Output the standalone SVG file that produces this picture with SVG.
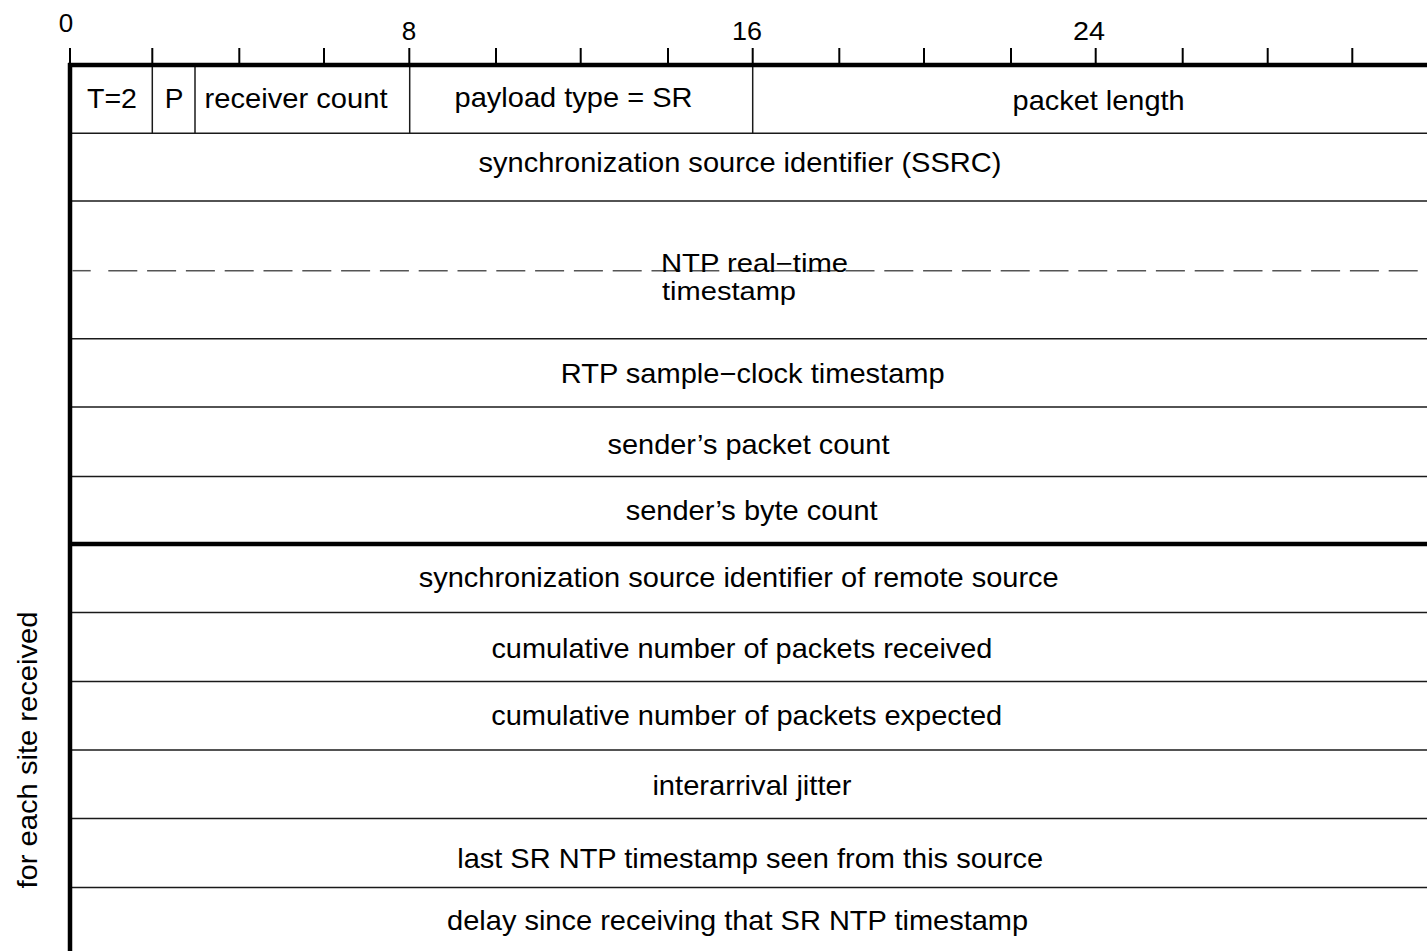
<svg xmlns="http://www.w3.org/2000/svg" width="1427" height="951" viewBox="0 0 1427 951">
<style>
  text { font-family: "Liberation Sans", Arial, sans-serif; fill: #000; }
  .lbl { font-size: 28px; text-anchor: middle; }
  .lft { font-size: 25px; text-anchor: start; }
  .num { font-size: 26px; text-anchor: middle; }
  .thick { stroke: #000; stroke-width: 4.5; fill: none; }
  .thin { stroke: #1a1a1a; stroke-width: 1.5; fill: none; }
  .tick { stroke: #000; stroke-width: 2; fill: none; }
  .dash { stroke: #555; stroke-width: 1.5; fill: none; }
</style>
<rect width="1427" height="951" fill="#fff"/>

<g id="ruler">
  <g class="tick">
    <line x1="70" y1="48" x2="70" y2="65"/>
    <line x1="152.3" y1="48" x2="152.3" y2="65"/>
    <line x1="239.3" y1="48" x2="239.3" y2="65"/>
    <line x1="324" y1="48" x2="324" y2="65"/>
    <line x1="409.3" y1="48" x2="409.3" y2="65"/>
    <line x1="496" y1="48" x2="496" y2="65"/>
    <line x1="580.7" y1="48" x2="580.7" y2="65"/>
    <line x1="668" y1="48" x2="668" y2="65"/>
    <line x1="752.7" y1="48" x2="752.7" y2="65"/>
    <line x1="839.3" y1="48" x2="839.3" y2="65"/>
    <line x1="924" y1="48" x2="924" y2="65"/>
    <line x1="1011" y1="48" x2="1011" y2="65"/>
    <line x1="1095.7" y1="48" x2="1095.7" y2="65"/>
    <line x1="1182.7" y1="48" x2="1182.7" y2="65"/>
    <line x1="1267.7" y1="48" x2="1267.7" y2="65"/>
    <line x1="1352.3" y1="48" x2="1352.3" y2="65"/>
  </g>
  <text class="num" x="66" y="32">0</text>
  <text class="num" x="409" y="40">8</text>
  <text class="num" x="747" y="40" textLength="30" lengthAdjust="spacingAndGlyphs">16</text>
  <text class="num" x="1089" y="40" textLength="32" lengthAdjust="spacingAndGlyphs">24</text>
</g>

<g id="grid">
  <!-- row 1 field dividers -->
  <g class="thin">
    <line x1="152.3" y1="65" x2="152.3" y2="133.5"/>
    <line x1="195" y1="65" x2="195" y2="133.5"/>
    <line x1="409.7" y1="65" x2="409.7" y2="133.5"/>
    <line x1="752.7" y1="65" x2="752.7" y2="133.5"/>
  </g>
  <!-- horizontal row separators -->
  <g class="thin">
    <line x1="70" y1="133.3" x2="1427" y2="133.3"/>
    <line x1="70" y1="201" x2="1427" y2="201"/>
    <line x1="70" y1="338.7" x2="1427" y2="338.7"/>
    <line x1="70" y1="407" x2="1427" y2="407"/>
    <line x1="70" y1="476.5" x2="1427" y2="476.5"/>
    <line x1="70" y1="612.5" x2="1427" y2="612.5"/>
    <line x1="70" y1="681.5" x2="1427" y2="681.5"/>
    <line x1="70" y1="750" x2="1427" y2="750"/>
    <line x1="70" y1="818.5" x2="1427" y2="818.5"/>
    <line x1="70" y1="887.5" x2="1427" y2="887.5"/>
  </g>
  <!-- dashed split of the 64-bit NTP timestamp -->
  <line class="dash" x1="72.5" y1="270.7" x2="90.7" y2="270.7"/>
  <line class="dash" x1="108.3" y1="270.7" x2="1427" y2="270.7" stroke-dasharray="29 9.8"/>
  <!-- thick borders -->
  <line class="thick" x1="68" y1="65" x2="1427" y2="65"/>
  <line class="thick" x1="70" y1="544" x2="1427" y2="544"/>
  <line class="thick" x1="70" y1="63" x2="70" y2="951"/>
</g>

<g id="f-type"><text class="lbl" x="112" y="108" textLength="50" lengthAdjust="spacingAndGlyphs">T=2</text></g>
<g id="f-padding"><text class="lbl" x="174" y="108">P</text></g>
<g id="f-receiver-count"><text class="lbl" x="296" y="108" textLength="183" lengthAdjust="spacingAndGlyphs">receiver count</text></g>
<g id="f-payload-type"><text class="lbl" x="573.5" y="107" textLength="238" lengthAdjust="spacingAndGlyphs">payload type = SR</text></g>
<g id="f-packet-length"><text class="lbl" x="1098.6" y="109.5" textLength="172" lengthAdjust="spacingAndGlyphs">packet length</text></g>
<g id="f-ssrc"><text class="lbl" x="740" y="172.3" textLength="523" lengthAdjust="spacingAndGlyphs">synchronization source identifier (SSRC)</text></g>
<g id="f-ntp">
  <text class="lft" x="661" y="271.5" textLength="187" lengthAdjust="spacingAndGlyphs">NTP real−time</text>
  <text class="lft" x="662" y="300" textLength="134" lengthAdjust="spacingAndGlyphs">timestamp</text>
</g>
<g id="f-rtp-ts"><text class="lbl" x="752.7" y="383.3" textLength="384" lengthAdjust="spacingAndGlyphs">RTP sample−clock timestamp</text></g>
<g id="f-packet-count"><text class="lbl" x="748.5" y="454.3" textLength="282" lengthAdjust="spacingAndGlyphs">sender’s packet count</text></g>
<g id="f-byte-count"><text class="lbl" x="751.7" y="520" textLength="252" lengthAdjust="spacingAndGlyphs">sender’s byte count</text></g>
<g id="f-remote-ssrc"><text class="lbl" x="738.7" y="586.7" textLength="640" lengthAdjust="spacingAndGlyphs">synchronization source identifier of remote source</text></g>
<g id="f-received"><text class="lbl" x="741.9" y="658.3" textLength="501" lengthAdjust="spacingAndGlyphs">cumulative number of packets received</text></g>
<g id="f-expected"><text class="lbl" x="746.7" y="725" textLength="511" lengthAdjust="spacingAndGlyphs">cumulative number of packets expected</text></g>
<g id="f-jitter"><text class="lbl" x="751.9" y="795" textLength="199" lengthAdjust="spacingAndGlyphs">interarrival jitter</text></g>
<g id="f-last-sr"><text class="lbl" x="750.2" y="868.3" textLength="586" lengthAdjust="spacingAndGlyphs">last SR NTP timestamp seen from this source</text></g>
<g id="f-delay"><text class="lbl" x="737.6" y="930" textLength="581" lengthAdjust="spacingAndGlyphs">delay since receiving that SR NTP timestamp</text></g>
<g id="side-label"><text class="lbl" transform="translate(37,750) rotate(-90)" textLength="277" lengthAdjust="spacingAndGlyphs">for each site received</text></g>
</svg>
